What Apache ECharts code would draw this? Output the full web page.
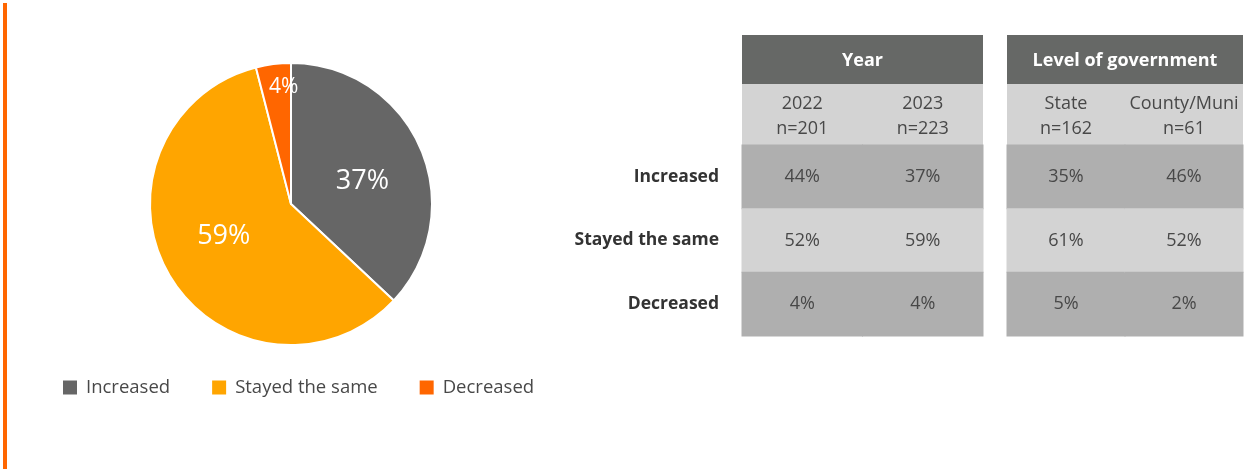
<!DOCTYPE html>
<html>
<head>
<meta charset="utf-8">
<script src="https://cdn.jsdelivr.net/npm/echarts@6/dist/echarts.min.js"></script>
<style>
  html, body { margin: 0; padding: 0; background: #ffffff; }
  #chart { width: 1247px; height: 469px; }
</style>
</head>
<body>
<div id="chart"></div>
<script>
// Response categories and the 2023 overall split shown in the pie
const responses = ['Increased', 'Stayed the same', 'Decreased'];
const overallShares = [37, 59, 4];

// Breakdown by survey year
const yearColumns = ['2022', '2023'];
const yearSizes = ['n=201', 'n=223'];
const yearShares2022 = [44, 52, 4];
const yearShares2023 = [37, 59, 4];

// Breakdown by level of government (2023)
const govColumns = ['State', 'County/Muni'];
const govSizes = ['n=162', 'n=61'];
const govSharesState = [35, 61, 5];
const govSharesCounty = [46, 52, 2];

const groupTitles = ['Year', 'Level of government'];

// ---- styling ----
const FONT = '"Open Sans", "Noto Sans", sans-serif';
const PIE_COLORS = ['#666666', '#FFA500', '#FF6600'];
const HEAD_DARK = '#666866';
const BAND_LIGHT = '#d3d3d3';
const BAND_MID = '#afafaf';
const TEXT_DARK = '#484848';

// small nudges for the slice labels (pixels)
const PIE_LABEL_NUDGE = [[4, 7], [-4, -5], [8, 5]];

// table blocks: horizontal placement of each group
const blocks = [
  { left: 742, width: 241, columns: yearColumns, sizes: yearSizes, series: [yearShares2022, yearShares2023] },
  { left: 1007, width: 236, columns: govColumns, sizes: govSizes, series: [govSharesState, govSharesCounty] }
];
const HEAD_TOP = 35, HEAD_H = 49, SUB_H = 61, BODY_TOP = 145, BODY_H = 191;

function cellData(columnSeries) {
  const out = [];
  columnSeries.forEach((vals, c) => vals.forEach((v, r) => out.push([c, r, v])));
  return out;
}

function renderCell(params, api) {
  const col = api.value(0), row = api.value(1);
  const c = api.coord([col, row]);
  const s = api.size([1, 1]);
  return {
    type: 'group',
    children: [
      {
        type: 'rect',
        shape: { x: c[0] - s[0] / 2 - 0.5, y: c[1] - s[1] / 2 - 0.5, width: s[0] + 1, height: s[1] + 1 },
        style: { fill: row % 2 === 0 ? BAND_MID : BAND_LIGHT }
      },
      {
        type: 'text',
        style: {
          text: api.value(2) + '%', x: c[0], y: c[1],
          align: 'center', verticalAlign: 'middle',
          fill: TEXT_DARK, font: '18px ' + FONT
        }
      }
    ]
  };
}

const grids = blocks.map(b => ({ left: b.left, width: b.width, top: BODY_TOP, height: BODY_H }));

const xAxes = blocks.map((b, i) => ({
  type: 'category', gridIndex: i, data: b.columns, position: 'top', z: 10,
  axisLine: { show: false }, axisTick: { show: false }, splitLine: { show: false },
  axisLabel: {
    interval: 0, margin: 4, fontSize: 18, lineHeight: 25, color: TEXT_DARK, fontFamily: FONT,
    formatter: (v, idx) => v + '\n' + b.sizes[idx]
  }
}));

const yAxes = blocks.map((b, i) => ({
  type: 'category', gridIndex: i, data: responses, inverse: true,
  axisLine: { show: false }, axisTick: { show: false }, splitLine: { show: false },
  axisLabel: {
    show: i === 0, margin: 23, fontSize: 17.5, fontWeight: 'bold', color: '#333333', fontFamily: FONT
  }
}));

const tableSeries = blocks.map((b, i) => ({
  type: 'custom', xAxisIndex: i, yAxisIndex: i, silent: true,
  renderItem: renderCell, data: cellData(b.series)
}));

// header bands above each block
const headerGraphics = [];
blocks.forEach((b, i) => {
  headerGraphics.push({
    type: 'rect', z: -1, shape: { x: b.left, y: HEAD_TOP, width: b.width, height: HEAD_H },
    style: { fill: HEAD_DARK }
  });
  headerGraphics.push({
    type: 'rect', z: -1, shape: { x: b.left, y: HEAD_TOP + HEAD_H, width: b.width, height: SUB_H },
    style: { fill: BAND_LIGHT }
  });
  headerGraphics.push({
    type: 'text', z: 5,
    style: {
      text: groupTitles[i], x: b.left + b.width / 2, y: HEAD_TOP + HEAD_H / 2 + 1.5,
      align: 'center', verticalAlign: 'middle', fill: '#ffffff',
      font: 'bold 18px ' + FONT
    }
  });
});
// accent rule on the left edge
headerGraphics.push({
  type: 'rect', shape: { x: 3, y: 3, width: 4, height: 466 }, style: { fill: '#FF6600' }
});

const pieData = responses.map((name, i) => ({
  name, value: overallShares[i], itemStyle: { color: PIE_COLORS[i] }
}));

const option = {
  animation: false,
  textStyle: { fontFamily: FONT },
  graphic: { elements: headerGraphics },
  legend: {
    data: responses, left: 58, top: 373, icon: 'rect', itemWidth: 14, itemHeight: 14, itemGap: 42,
    itemStyle: { borderWidth: 0 },
    textStyle: { fontSize: 18.5, color: TEXT_DARK, fontFamily: FONT, padding: [0, 0, 0, 4] }
  },
  grid: grids,
  xAxis: xAxes,
  yAxis: yAxes,
  series: [
    {
      type: 'pie', center: [291, 204], radius: 141, startAngle: 90, clockwise: true,
      silent: true,
      itemStyle: { borderColor: '#ffffff', borderWidth: 2 },
      label: {
        position: 'inside', color: '#ffffff', fontSize: 27, fontFamily: FONT,
        formatter: p => (p.dataIndex === 2 ? '' : p.value + '%')
      },
      labelLayout: p => ({ dx: PIE_LABEL_NUDGE[p.dataIndex][0], dy: PIE_LABEL_NUDGE[p.dataIndex][1] }),
      labelLine: { show: false },
      data: pieData
    },
    {
      // transparent twin ring that places the small slice's label further out
      type: 'pie', center: [291, 204], radius: 240, startAngle: 90, clockwise: true,
      silent: true, z: 3,
      itemStyle: { color: 'rgba(0,0,0,0)', borderWidth: 0 },
      label: {
        position: 'inside', color: '#ffffff', fontSize: 21, fontFamily: FONT,
        formatter: p => (p.dataIndex === 2 ? p.value + '%' : '')
      },
      labelLayout: p => ({ dx: PIE_LABEL_NUDGE[p.dataIndex][0], dy: PIE_LABEL_NUDGE[p.dataIndex][1] }),
      labelLine: { show: false },
      data: responses.map((name, i) => ({ name, value: overallShares[i] }))
    },
    ...tableSeries
  ]
};

const chart = echarts.init(document.getElementById('chart'), null, { renderer: 'canvas' });
chart.setOption(option);
</script>
</body>
</html>
